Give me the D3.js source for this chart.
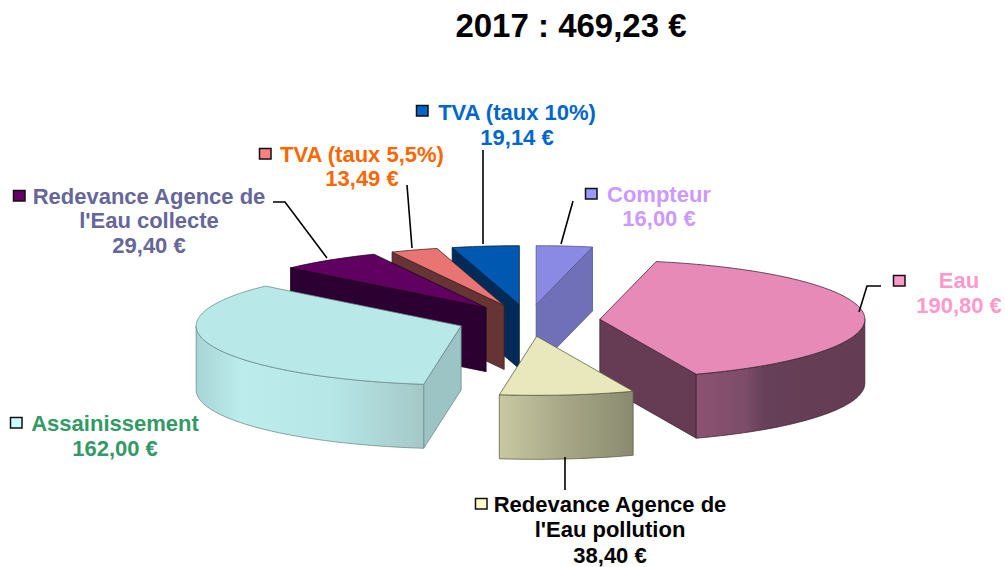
<!DOCTYPE html>
<meta charset="utf-8">
<style>
html, body { margin: 0; background: #fff; }
svg { display: block; }
text { font-family: "Liberation Sans", Arial, sans-serif; font-weight: bold; text-anchor: middle; }
</style>
<svg width="1005" height="567"></svg>
<script src="https://cdn.jsdelivr.net/npm/d3@7"></script>
<script>
var title = "2017 : 469,23 €"

var categories = ["Compteur", "Eau", "Redevance pollution", "Assainissement", "Redevance collecte", "TVA 5,5", "TVA 10"]
var values = [16.00, 190.80, 38.40, 162.00, 29.40, 13.49, 19.14]
var valueLabels = ["16,00 €", "190,80 €", "38,40 €", "162,00 €", "29,40 €", "13,49 €", "19,14 €"]
var nameLines = [
  ["Compteur"],
  ["Eau"],
  ["Redevance Agence de", "l'Eau pollution"],
  ["Assainissement"],
  ["Redevance Agence de", "l'Eau collecte"],
  ["TVA (taux 5,5%)"],
  ["TVA (taux 10%)"]
]

var topColors = ["#8a8ae4", "#e88ab8", "#e8e8bc", "#b8e8e8", "#600060", "#e87474", "#0058b0"]
var sideColors = ["#7070b8", "#663c54", "#b0b08c", "#9cc4c4", "#2c0030", "#663434", "#002a58"]
var edgeColors = ["#50508a", "#3a2030", "#5a5a44", "#6a8888", "#180018", "#3c1c1c", "#001830"]
var wallStops = [
  null,
  [[0, "#8c5272"], [0.3, "#7c4c68"], [0.4, "#664058"], [1, "#643c54"]],
  [[0, "#c8c8a2"], [0.5, "#a6a686"], [1, "#8a8a70"]],
  [[0, "#a8d4d4"], [0.2, "#bcecec"], [0.6, "#b6e6e6"], [1, "#a4c8c8"]],
  null, null, null
]
var markerColors = ["#9999ff", "#ff99cc", "#ffffcc", "#ccffff", "#660066", "#ff8080", "#0066cc"]
var textColors = ["#cc99ff", "#ff99cc", "#000000", "#339966", "#666699", "#ff6600", "#0066cc"]

// label layout: x is the text centre, ys are the baselines, box the legend key
var labelX = [659, 959, 610, 115, 149, 362, 517]
var labelY = [[202, 226], [288, 313], [512, 537, 563], [431, 456], [204, 228, 253], [162, 186], [120, 145]]
var keyBox = [[585, 188], [893, 275], [475, 498], [10, 417], [13, 190], [259, 148], [416, 105]]
var leaders = [
  [[573, 201], [561, 244]],
  [[881, 286], [867, 286], [859, 312]],
  [[565, 457], [565, 490]],
  null,
  [[273, 202], [285, 202], [327, 258]],
  [[407, 185], [412, 248]],
  [[483, 150], [483, 244]]
]

// back to front
var drawOrder = [6, 5, 4, 3, 0, 1, 2]

var cx = 528.5, cy = 320.5, rx = 265, ry = 59, depth = 64, explode = 0.27

var svg = d3.select("svg")
var defs = svg.append("defs")

var slices = d3.pie().sort(null)(values)

var sx = d3.scaleLinear().domain([-1, 1]).range([-rx, rx])
var sy = d3.scaleLinear().domain([-1, 1]).range([-ry, ry])

function rim(o, a, dy) {
  return [o[0] + sx(Math.sin(a)), o[1] - sy(Math.cos(a)) + (dy || 0)]
}

function arcPoints(o, a0, a1, dy) {
  var n = Math.max(2, Math.ceil((a1 - a0) / 0.02)), pts = []
  for (var i = 0; i <= n; i++)
    pts.push(rim(o, a0 + (a1 - a0) * i / n, dy))
  return pts
}

var line = d3.line()
function closed(pts) { return line(pts) + "Z" }

function draw_face(g, pts, i, fill) {
  g.append("path")
    .attr("d", closed(pts))
    .attr("fill", fill)
    .attr("stroke", edgeColors[i])
    .attr("stroke-opacity", 0.75)
    .attr("stroke-linejoin", "round")
    .attr("stroke-width", 1)
}

drawOrder.forEach(function(i) {
  var s = slices[i]
  var mid = (s.startAngle + s.endAngle) / 2
  var o = [cx + explode * sx(Math.sin(mid)), cy - explode * sy(Math.cos(mid))]
  var g = svg.append("g").attr("class", "slice").attr("data-name", categories[i])

  // radial faces, only the ones turned to the viewer
  if (Math.sin(s.startAngle) < 0) {
    var p = rim(o, s.startAngle)
    draw_face(g, [o, p, [p[0], p[1] + depth], [o[0], o[1] + depth]], i, sideColors[i])
  }
  if (Math.sin(s.endAngle) > 0) {
    var q = rim(o, s.endAngle)
    draw_face(g, [o, q, [q[0], q[1] + depth], [o[0], o[1] + depth]], i, sideColors[i])
  }

  // outer wall for the front half of the ellipse
  var a0 = Math.max(s.startAngle, Math.PI / 2), a1 = Math.min(s.endAngle, Math.PI * 1.5)
  if (a1 > a0) {
    var fill = sideColors[i]
    if (wallStops[i]) {
      var id = "wall" + i
      var grad = defs.append("linearGradient").attr("id", id)
      wallStops[i].forEach(function(st) {
        grad.append("stop").attr("offset", st[0]).attr("stop-color", st[1])
      })
      fill = "url(#" + id + ")"
    }
    draw_face(g, arcPoints(o, a0, a1).concat(arcPoints(o, a0, a1, depth).reverse()), i, fill)
  }

  // top
  draw_face(g, [o].concat(arcPoints(o, s.startAngle, s.endAngle)), i, topColors[i])
})

// leaders
leaders.forEach(function(l) {
  if (!l) return
  svg.append("path")
    .attr("d", line(l))
    .attr("fill", "none")
    .attr("stroke", "#000")
    .attr("stroke-width", 1.6)
})

// legend keys and labels
categories.forEach(function(c, i) {
  svg.append("rect")
    .attr("x", keyBox[i][0] + 0.5)
    .attr("y", keyBox[i][1] + 0.5)
    .attr("width", 11.5)
    .attr("height", 10.5)
    .attr("fill", markerColors[i])
    .attr("stroke", "#111")
    .attr("stroke-width", 1.5)

  var lines = nameLines[i].concat([valueLabels[i]])
  lines.forEach(function(t, k) {
    svg.append("text")
      .attr("x", labelX[i])
      .attr("y", labelY[i][k])
      .attr("font-size", 22)
      .attr("fill", textColors[i])
      .text(t)
  })
})

svg.append("text")
  .attr("x", 571)
  .attr("y", 37)
  .attr("font-size", 33)
  .attr("fill", "#000")
  .text(title)
</script>
